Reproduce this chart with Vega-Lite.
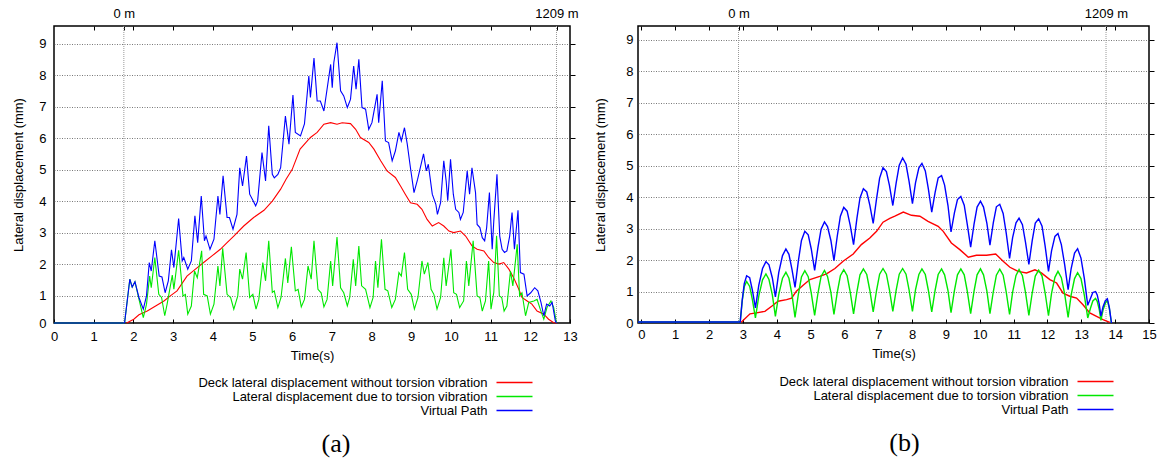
{
"$schema": "https://vega.github.io/schema/vega-lite/v6.json",
"padding": {"left": 12, "top": 6, "right": 0, "bottom": 0},
"spacing": 15,
"resolve": {"scale": {"color": "independent"}, "legend": {"color": "independent"}},
"config": {
  "font": "Liberation Sans",
  "view": {"stroke": "#000000", "strokeWidth": 1.5},
  "axis": {"labelFont": "Liberation Sans", "labelFontSize": 13, "labelColor": "#000000", "titleFont": "Liberation Sans", "titleFontSize": 13, "titleFontWeight": "normal", "titleColor": "#000000", "tickColor": "#000000", "domain": false, "gridColor": "#555555", "gridDash": [1, 1.5], "gridWidth": 0.8},
  "legend": {"labelFont": "Liberation Sans", "labelFontSize": 13, "labelColor": "#000000", "labelLimit": 600, "rowPadding": 0, "padding": 0}
},
"datasets": {
"a": [
{"s":"R","t":1.83,"v":0.13},{"s":"R","t":2.01,"v":0.25},{"s":"R","t":2.14,"v":0.39},{"s":"R","t":2.35,"v":0.51},{"s":"R","t":2.56,"v":0.67},{"s":"R","t":2.77,"v":0.83},{"s":"R","t":2.93,"v":0.99},{"s":"R","t":3.1,"v":1.15},{"s":"R","t":3.35,"v":1.62},{"s":"R","t":3.61,"v":1.89},{"s":"R","t":3.77,"v":2.05},{"s":"R","t":3.98,"v":2.26},{"s":"R","t":4.19,"v":2.47},{"s":"R","t":4.36,"v":2.68},{"s":"R","t":4.53,"v":2.89},{"s":"R","t":4.78,"v":3.21},{"s":"R","t":5.03,"v":3.48},{"s":"R","t":5.29,"v":3.71},{"s":"R","t":5.5,"v":4.0},{"s":"R","t":5.71,"v":4.38},{"s":"R","t":5.85,"v":4.7},{"s":"R","t":6.0,"v":5.0},{"s":"R","t":6.2,"v":5.65},{"s":"R","t":6.46,"v":6.02},{"s":"R","t":6.63,"v":6.18},{"s":"R","t":6.8,"v":6.44},{"s":"R","t":6.97,"v":6.49},{"s":"R","t":7.13,"v":6.44},{"s":"R","t":7.26,"v":6.49},{"s":"R","t":7.47,"v":6.46},{"s":"R","t":7.6,"v":6.28},{"s":"R","t":7.72,"v":6.02},{"s":"R","t":7.93,"v":5.86},{"s":"R","t":8.06,"v":5.65},{"s":"R","t":8.23,"v":5.28},{"s":"R","t":8.39,"v":4.96},{"s":"R","t":8.6,"v":4.75},{"s":"R","t":8.73,"v":4.48},{"s":"R","t":8.85,"v":4.22},{"s":"R","t":8.98,"v":3.95},{"s":"R","t":9.15,"v":3.9},{"s":"R","t":9.27,"v":3.74},{"s":"R","t":9.4,"v":3.42},{"s":"R","t":9.53,"v":3.21},{"s":"R","t":9.69,"v":3.32},{"s":"R","t":9.82,"v":3.21},{"s":"R","t":9.95,"v":3.05},{"s":"R","t":10.07,"v":3.0},{"s":"R","t":10.24,"v":3.05},{"s":"R","t":10.37,"v":2.89},{"s":"R","t":10.53,"v":2.58},{"s":"R","t":10.66,"v":2.47},{"s":"R","t":10.83,"v":2.42},{"s":"R","t":10.95,"v":2.21},{"s":"R","t":11.08,"v":2.05},{"s":"R","t":11.21,"v":2.0},{"s":"R","t":11.33,"v":2.05},{"s":"R","t":11.46,"v":1.84},{"s":"R","t":11.58,"v":1.57},{"s":"R","t":11.71,"v":1.2},{"s":"R","t":11.79,"v":0.94},{"s":"R","t":11.92,"v":0.83},{"s":"R","t":12.04,"v":0.73},{"s":"R","t":12.17,"v":0.51},{"s":"R","t":12.34,"v":0.41},{"s":"R","t":12.46,"v":0.25},{"s":"R","t":12.59,"v":0.14},{"s":"R","t":12.67,"v":0.13},
{"s":"G","t":0,"v":0.13},{"s":"G","t":1.76,"v":0.13},{"s":"G","t":1.78,"v":0.15},{"s":"G","t":1.91,"v":1.52},{"s":"G","t":1.97,"v":1.27},{"s":"G","t":2.04,"v":1.44},{"s":"G","t":2.14,"v":0.89},{"s":"G","t":2.25,"v":0.3},{"s":"G","t":2.33,"v":0.72},{"s":"G","t":2.41,"v":1.62},{"s":"G","t":2.45,"v":1.25},{"s":"G","t":2.54,"v":2.21},{"s":"G","t":2.64,"v":1.04},{"s":"G","t":2.71,"v":0.94},{"s":"G","t":2.79,"v":0.36},{"s":"G","t":2.85,"v":0.73},{"s":"G","t":2.98,"v":1.65},{"s":"G","t":3.02,"v":1.2},{"s":"G","t":3.14,"v":2.44},{"s":"G","t":3.25,"v":0.99},{"s":"G","t":3.31,"v":1.04},{"s":"G","t":3.37,"v":0.41},{"s":"G","t":3.46,"v":0.67},{"s":"G","t":3.54,"v":1.78},{"s":"G","t":3.61,"v":1.57},{"s":"G","t":3.72,"v":2.42},{"s":"G","t":3.77,"v":1.04},{"s":"G","t":3.86,"v":0.99},{"s":"G","t":3.94,"v":0.41},{"s":"G","t":4.03,"v":0.73},{"s":"G","t":4.13,"v":1.94},{"s":"G","t":4.18,"v":1.31},{"s":"G","t":4.25,"v":2.5},{"s":"G","t":4.36,"v":1.04},{"s":"G","t":4.45,"v":0.94},{"s":"G","t":4.53,"v":0.57},{"s":"G","t":4.63,"v":0.99},{"s":"G","t":4.68,"v":1.84},{"s":"G","t":4.75,"v":1.52},{"s":"G","t":4.84,"v":2.37},{"s":"G","t":4.93,"v":0.94},{"s":"G","t":5.01,"v":1.04},{"s":"G","t":5.09,"v":0.57},{"s":"G","t":5.16,"v":0.88},{"s":"G","t":5.26,"v":2.05},{"s":"G","t":5.33,"v":1.47},{"s":"G","t":5.41,"v":2.74},{"s":"G","t":5.5,"v":1.1},{"s":"G","t":5.55,"v":1.15},{"s":"G","t":5.64,"v":0.62},{"s":"G","t":5.72,"v":0.94},{"s":"G","t":5.83,"v":2.18},{"s":"G","t":5.89,"v":1.4},{"s":"G","t":5.98,"v":2.55},{"s":"G","t":6.08,"v":1.15},{"s":"G","t":6.15,"v":1.2},{"s":"G","t":6.23,"v":0.64},{"s":"G","t":6.31,"v":0.88},{"s":"G","t":6.4,"v":1.94},{"s":"G","t":6.48,"v":1.52},{"s":"G","t":6.55,"v":2.74},{"s":"G","t":6.65,"v":1.2},{"s":"G","t":6.73,"v":1.09},{"s":"G","t":6.8,"v":0.64},{"s":"G","t":6.88,"v":0.88},{"s":"G","t":6.97,"v":2.1},{"s":"G","t":7.02,"v":1.31},{"s":"G","t":7.13,"v":2.86},{"s":"G","t":7.22,"v":1.25},{"s":"G","t":7.3,"v":1.09},{"s":"G","t":7.39,"v":0.67},{"s":"G","t":7.45,"v":0.94},{"s":"G","t":7.54,"v":2.15},{"s":"G","t":7.6,"v":1.31},{"s":"G","t":7.68,"v":2.57},{"s":"G","t":7.75,"v":1.31},{"s":"G","t":7.85,"v":1.2},{"s":"G","t":7.96,"v":0.62},{"s":"G","t":8.04,"v":0.94},{"s":"G","t":8.1,"v":2.1},{"s":"G","t":8.16,"v":1.25},{"s":"G","t":8.25,"v":2.79},{"s":"G","t":8.34,"v":1.2},{"s":"G","t":8.41,"v":1.15},{"s":"G","t":8.51,"v":0.62},{"s":"G","t":8.6,"v":0.88},{"s":"G","t":8.69,"v":1.73},{"s":"G","t":8.75,"v":1.62},{"s":"G","t":8.83,"v":2.37},{"s":"G","t":8.91,"v":1.2},{"s":"G","t":9.0,"v":1.04},{"s":"G","t":9.08,"v":0.57},{"s":"G","t":9.17,"v":0.94},{"s":"G","t":9.27,"v":2.1},{"s":"G","t":9.33,"v":1.68},{"s":"G","t":9.42,"v":2.05},{"s":"G","t":9.5,"v":1.2},{"s":"G","t":9.57,"v":1.04},{"s":"G","t":9.65,"v":0.57},{"s":"G","t":9.74,"v":0.94},{"s":"G","t":9.82,"v":2.2},{"s":"G","t":9.88,"v":1.31},{"s":"G","t":10.0,"v":2.47},{"s":"G","t":10.07,"v":1.09},{"s":"G","t":10.14,"v":1.04},{"s":"G","t":10.22,"v":0.62},{"s":"G","t":10.32,"v":0.83},{"s":"G","t":10.39,"v":2.1},{"s":"G","t":10.45,"v":1.31},{"s":"G","t":10.56,"v":2.74},{"s":"G","t":10.66,"v":0.99},{"s":"G","t":10.73,"v":0.94},{"s":"G","t":10.79,"v":0.51},{"s":"G","t":10.87,"v":0.83},{"s":"G","t":10.95,"v":2.1},{"s":"G","t":11.01,"v":0.57},{"s":"G","t":11.08,"v":1.1},{"s":"G","t":11.15,"v":2.9},{"s":"G","t":11.22,"v":0.99},{"s":"G","t":11.28,"v":0.94},{"s":"G","t":11.34,"v":0.51},{"s":"G","t":11.41,"v":0.67},{"s":"G","t":11.5,"v":1.78},{"s":"G","t":11.56,"v":1.31},{"s":"G","t":11.67,"v":2.63},{"s":"G","t":11.73,"v":0.99},{"s":"G","t":11.79,"v":1.09},{"s":"G","t":11.88,"v":0.36},{"s":"G","t":11.96,"v":0.78},{"s":"G","t":12.09,"v":0.83},{"s":"G","t":12.17,"v":0.88},{"s":"G","t":12.25,"v":0.57},{"s":"G","t":12.34,"v":0.25},{"s":"G","t":12.42,"v":0.62},{"s":"G","t":12.52,"v":0.83},{"s":"G","t":12.59,"v":0.62},{"s":"G","t":12.66,"v":0.13},
{"s":"B","t":0,"v":0.13},{"s":"B","t":1.76,"v":0.13},{"s":"B","t":1.78,"v":0.15},{"s":"B","t":1.91,"v":1.52},{"s":"B","t":1.97,"v":1.27},{"s":"B","t":2.04,"v":1.44},{"s":"B","t":2.14,"v":0.94},{"s":"B","t":2.25,"v":0.57},{"s":"B","t":2.33,"v":0.99},{"s":"B","t":2.4,"v":2.05},{"s":"B","t":2.45,"v":1.78},{"s":"B","t":2.54,"v":2.74},{"s":"B","t":2.65,"v":1.62},{"s":"B","t":2.72,"v":1.59},{"s":"B","t":2.8,"v":1.09},{"s":"B","t":2.88,"v":1.47},{"s":"B","t":2.96,"v":2.45},{"s":"B","t":3.02,"v":1.89},{"s":"B","t":3.14,"v":3.45},{"s":"B","t":3.23,"v":2.1},{"s":"B","t":3.27,"v":2.21},{"s":"B","t":3.37,"v":1.84},{"s":"B","t":3.46,"v":2.1},{"s":"B","t":3.55,"v":3.53},{"s":"B","t":3.62,"v":2.68},{"s":"B","t":3.71,"v":4.16},{"s":"B","t":3.79,"v":2.74},{"s":"B","t":3.83,"v":2.89},{"s":"B","t":3.93,"v":2.47},{"s":"B","t":4.03,"v":2.79},{"s":"B","t":4.13,"v":4.16},{"s":"B","t":4.18,"v":3.58},{"s":"B","t":4.26,"v":4.8},{"s":"B","t":4.36,"v":3.48},{"s":"B","t":4.42,"v":3.48},{"s":"B","t":4.51,"v":3.11},{"s":"B","t":4.61,"v":3.58},{"s":"B","t":4.68,"v":5.06},{"s":"B","t":4.75,"v":4.48},{"s":"B","t":4.85,"v":5.43},{"s":"B","t":4.93,"v":4.22},{"s":"B","t":5.02,"v":4.0},{"s":"B","t":5.08,"v":3.85},{"s":"B","t":5.13,"v":4.0},{"s":"B","t":5.24,"v":5.54},{"s":"B","t":5.33,"v":4.64},{"s":"B","t":5.41,"v":6.39},{"s":"B","t":5.5,"v":4.85},{"s":"B","t":5.55,"v":4.74},{"s":"B","t":5.64,"v":4.85},{"s":"B","t":5.71,"v":5.06},{"s":"B","t":5.83,"v":6.7},{"s":"B","t":5.92,"v":5.81},{"s":"B","t":6.02,"v":7.37},{"s":"B","t":6.08,"v":6.18},{"s":"B","t":6.21,"v":6.07},{"s":"B","t":6.31,"v":6.45},{"s":"B","t":6.42,"v":7.97},{"s":"B","t":6.46,"v":7.29},{"s":"B","t":6.55,"v":8.54},{"s":"B","t":6.63,"v":7.18},{"s":"B","t":6.71,"v":7.18},{"s":"B","t":6.8,"v":6.86},{"s":"B","t":6.97,"v":8.34},{"s":"B","t":7.01,"v":7.6},{"s":"B","t":7.05,"v":8.4},{"s":"B","t":7.13,"v":9.03},{"s":"B","t":7.22,"v":7.5},{"s":"B","t":7.3,"v":7.34},{"s":"B","t":7.39,"v":6.97},{"s":"B","t":7.47,"v":7.23},{"s":"B","t":7.55,"v":8.29},{"s":"B","t":7.61,"v":7.55},{"s":"B","t":7.68,"v":8.5},{"s":"B","t":7.76,"v":6.97},{"s":"B","t":7.85,"v":6.92},{"s":"B","t":7.93,"v":6.28},{"s":"B","t":8.01,"v":6.49},{"s":"B","t":8.14,"v":7.39},{"s":"B","t":8.18,"v":6.49},{"s":"B","t":8.27,"v":7.82},{"s":"B","t":8.35,"v":5.91},{"s":"B","t":8.43,"v":5.86},{"s":"B","t":8.52,"v":5.28},{"s":"B","t":8.6,"v":5.59},{"s":"B","t":8.69,"v":6.18},{"s":"B","t":8.75,"v":5.91},{"s":"B","t":8.83,"v":6.33},{"s":"B","t":8.9,"v":5.81},{"s":"B","t":8.98,"v":5.06},{"s":"B","t":9.07,"v":4.27},{"s":"B","t":9.16,"v":4.69},{"s":"B","t":9.31,"v":5.5},{"s":"B","t":9.38,"v":4.96},{"s":"B","t":9.43,"v":5.17},{"s":"B","t":9.53,"v":4.22},{"s":"B","t":9.62,"v":3.9},{"s":"B","t":9.66,"v":3.58},{"s":"B","t":9.74,"v":3.95},{"s":"B","t":9.82,"v":5.28},{"s":"B","t":9.88,"v":4.64},{"s":"B","t":9.92,"v":4.01},{"s":"B","t":9.99,"v":5.33},{"s":"B","t":10.06,"v":4.22},{"s":"B","t":10.12,"v":3.74},{"s":"B","t":10.2,"v":3.64},{"s":"B","t":10.24,"v":3.42},{"s":"B","t":10.31,"v":3.64},{"s":"B","t":10.41,"v":4.96},{"s":"B","t":10.47,"v":4.22},{"s":"B","t":10.53,"v":5.06},{"s":"B","t":10.62,"v":4.27},{"s":"B","t":10.66,"v":3.26},{"s":"B","t":10.73,"v":3.16},{"s":"B","t":10.79,"v":2.84},{"s":"B","t":10.85,"v":2.74},{"s":"B","t":10.9,"v":3.16},{"s":"B","t":10.97,"v":4.27},{"s":"B","t":11.04,"v":2.47},{"s":"B","t":11.08,"v":3.37},{"s":"B","t":11.16,"v":4.85},{"s":"B","t":11.23,"v":2.89},{"s":"B","t":11.29,"v":2.47},{"s":"B","t":11.35,"v":2.37},{"s":"B","t":11.41,"v":2.42},{"s":"B","t":11.48,"v":2.89},{"s":"B","t":11.54,"v":3.64},{"s":"B","t":11.6,"v":2.47},{"s":"B","t":11.69,"v":3.71},{"s":"B","t":11.75,"v":1.73},{"s":"B","t":11.84,"v":1.68},{"s":"B","t":11.92,"v":0.99},{"s":"B","t":12.01,"v":1.09},{"s":"B","t":12.11,"v":1.25},{"s":"B","t":12.19,"v":1.15},{"s":"B","t":12.27,"v":0.78},{"s":"B","t":12.34,"v":0.36},{"s":"B","t":12.41,"v":0.73},{"s":"B","t":12.49,"v":0.67},{"s":"B","t":12.55,"v":0.78},{"s":"B","t":12.63,"v":0.2},{"s":"B","t":12.66,"v":0.13}
],
"b": [
{"s":"R","t":2.95,"v":0.02},{"s":"R","t":3.21,"v":0.29},{"s":"R","t":3.4,"v":0.32},{"s":"R","t":3.65,"v":0.37},{"s":"R","t":3.85,"v":0.53},{"s":"R","t":4.04,"v":0.69},{"s":"R","t":4.29,"v":0.74},{"s":"R","t":4.44,"v":0.79},{"s":"R","t":4.58,"v":1.01},{"s":"R","t":4.78,"v":1.2},{"s":"R","t":4.98,"v":1.38},{"s":"R","t":5.27,"v":1.48},{"s":"R","t":5.47,"v":1.56},{"s":"R","t":5.72,"v":1.73},{"s":"R","t":5.96,"v":1.96},{"s":"R","t":6.26,"v":2.19},{"s":"R","t":6.5,"v":2.49},{"s":"R","t":6.75,"v":2.7},{"s":"R","t":6.95,"v":2.91},{"s":"R","t":7.14,"v":3.2},{"s":"R","t":7.34,"v":3.32},{"s":"R","t":7.49,"v":3.39},{"s":"R","t":7.74,"v":3.52},{"s":"R","t":7.98,"v":3.42},{"s":"R","t":8.23,"v":3.39},{"s":"R","t":8.47,"v":3.23},{"s":"R","t":8.77,"v":3.07},{"s":"R","t":8.92,"v":2.91},{"s":"R","t":9.16,"v":2.54},{"s":"R","t":9.41,"v":2.33},{"s":"R","t":9.66,"v":2.09},{"s":"R","t":9.9,"v":2.15},{"s":"R","t":10.2,"v":2.15},{"s":"R","t":10.47,"v":2.19},{"s":"R","t":10.69,"v":1.96},{"s":"R","t":10.89,"v":1.77},{"s":"R","t":11.13,"v":1.64},{"s":"R","t":11.38,"v":1.59},{"s":"R","t":11.63,"v":1.69},{"s":"R","t":11.82,"v":1.59},{"s":"R","t":12.07,"v":1.38},{"s":"R","t":12.27,"v":1.27},{"s":"R","t":12.46,"v":0.95},{"s":"R","t":12.66,"v":0.85},{"s":"R","t":12.86,"v":0.79},{"s":"R","t":13.05,"v":0.58},{"s":"R","t":13.25,"v":0.32},{"s":"R","t":13.45,"v":0.21},{"s":"R","t":13.64,"v":0.11},{"s":"R","t":13.84,"v":0.02},
{"s":"G","t":-0.1,"v":0.03},{"s":"G","t":2.92,"v":0.03},{"s":"G","t":2.98,"v":0.7},{"s":"G","t":3.04,"v":1.15},{"s":"G","t":3.11,"v":1.32},{"s":"G","t":3.2,"v":1.16},{"s":"G","t":3.28,"v":0.74},{"s":"G","t":3.37,"v":0.16},{"s":"G","t":3.47,"v":0.86},{"s":"G","t":3.58,"v":1.37},{"s":"G","t":3.68,"v":1.56},{"s":"G","t":3.77,"v":1.38},{"s":"G","t":3.87,"v":0.89},{"s":"G","t":3.96,"v":0.21},{"s":"G","t":4.06,"v":0.91},{"s":"G","t":4.17,"v":1.42},{"s":"G","t":4.27,"v":1.61},{"s":"G","t":4.36,"v":1.42},{"s":"G","t":4.45,"v":0.9},{"s":"G","t":4.54,"v":0.18},{"s":"G","t":4.64,"v":0.92},{"s":"G","t":4.73,"v":1.46},{"s":"G","t":4.83,"v":1.66},{"s":"G","t":4.93,"v":1.47},{"s":"G","t":5.02,"v":0.95},{"s":"G","t":5.12,"v":0.24},{"s":"G","t":5.22,"v":0.96},{"s":"G","t":5.31,"v":1.48},{"s":"G","t":5.41,"v":1.67},{"s":"G","t":5.5,"v":1.48},{"s":"G","t":5.6,"v":0.97},{"s":"G","t":5.69,"v":0.27},{"s":"G","t":5.79,"v":0.98},{"s":"G","t":5.88,"v":1.5},{"s":"G","t":5.98,"v":1.69},{"s":"G","t":6.08,"v":1.5},{"s":"G","t":6.17,"v":0.99},{"s":"G","t":6.27,"v":0.29},{"s":"G","t":6.37,"v":1.0},{"s":"G","t":6.46,"v":1.53},{"s":"G","t":6.56,"v":1.72},{"s":"G","t":6.66,"v":1.54},{"s":"G","t":6.75,"v":1.04},{"s":"G","t":6.85,"v":0.35},{"s":"G","t":6.95,"v":1.04},{"s":"G","t":7.04,"v":1.55},{"s":"G","t":7.14,"v":1.73},{"s":"G","t":7.24,"v":1.55},{"s":"G","t":7.33,"v":1.05},{"s":"G","t":7.43,"v":0.37},{"s":"G","t":7.53,"v":1.05},{"s":"G","t":7.62,"v":1.55},{"s":"G","t":7.72,"v":1.73},{"s":"G","t":7.82,"v":1.55},{"s":"G","t":7.91,"v":1.05},{"s":"G","t":8.01,"v":0.37},{"s":"G","t":8.1,"v":1.05},{"s":"G","t":8.2,"v":1.54},{"s":"G","t":8.29,"v":1.72},{"s":"G","t":8.39,"v":1.54},{"s":"G","t":8.48,"v":1.04},{"s":"G","t":8.58,"v":0.35},{"s":"G","t":8.68,"v":1.04},{"s":"G","t":8.77,"v":1.54},{"s":"G","t":8.87,"v":1.72},{"s":"G","t":8.96,"v":1.53},{"s":"G","t":9.06,"v":1.03},{"s":"G","t":9.15,"v":0.33},{"s":"G","t":9.25,"v":1.03},{"s":"G","t":9.34,"v":1.53},{"s":"G","t":9.44,"v":1.72},{"s":"G","t":9.54,"v":1.53},{"s":"G","t":9.63,"v":1.01},{"s":"G","t":9.73,"v":0.3},{"s":"G","t":9.83,"v":1.01},{"s":"G","t":9.92,"v":1.53},{"s":"G","t":10.02,"v":1.72},{"s":"G","t":10.11,"v":1.53},{"s":"G","t":10.21,"v":1.01},{"s":"G","t":10.3,"v":0.3},{"s":"G","t":10.4,"v":1.0},{"s":"G","t":10.49,"v":1.52},{"s":"G","t":10.59,"v":1.71},{"s":"G","t":10.69,"v":1.52},{"s":"G","t":10.78,"v":0.99},{"s":"G","t":10.88,"v":0.27},{"s":"G","t":10.97,"v":0.98},{"s":"G","t":11.07,"v":1.51},{"s":"G","t":11.16,"v":1.7},{"s":"G","t":11.26,"v":1.5},{"s":"G","t":11.35,"v":0.97},{"s":"G","t":11.45,"v":0.24},{"s":"G","t":11.55,"v":0.96},{"s":"G","t":11.64,"v":1.49},{"s":"G","t":11.74,"v":1.68},{"s":"G","t":11.84,"v":1.49},{"s":"G","t":11.93,"v":0.96},{"s":"G","t":12.03,"v":0.23},{"s":"G","t":12.12,"v":0.94},{"s":"G","t":12.22,"v":1.45},{"s":"G","t":12.31,"v":1.64},{"s":"G","t":12.41,"v":1.44},{"s":"G","t":12.51,"v":0.91},{"s":"G","t":12.61,"v":0.18},{"s":"G","t":12.7,"v":0.89},{"s":"G","t":12.8,"v":1.41},{"s":"G","t":12.89,"v":1.6},{"s":"G","t":12.99,"v":1.41},{"s":"G","t":13.09,"v":0.88},{"s":"G","t":13.19,"v":0.16},{"s":"G","t":13.27,"v":0.47},{"s":"G","t":13.34,"v":0.7},{"s":"G","t":13.42,"v":0.78},{"s":"G","t":13.47,"v":0.69},{"s":"G","t":13.53,"v":0.43},{"s":"G","t":13.58,"v":0.08},{"s":"G","t":13.64,"v":0.4},{"s":"G","t":13.71,"v":0.63},{"s":"G","t":13.77,"v":0.72},{"s":"G","t":13.83,"v":0.45},{"s":"G","t":13.89,"v":0.0},
{"s":"B","t":-0.1,"v":0.03},{"s":"B","t":2.92,"v":0.03},{"s":"B","t":2.98,"v":0.73},{"s":"B","t":3.04,"v":1.25},{"s":"B","t":3.11,"v":1.5},{"s":"B","t":3.2,"v":1.44},{"s":"B","t":3.28,"v":1.04},{"s":"B","t":3.37,"v":0.48},{"s":"B","t":3.47,"v":1.2},{"s":"B","t":3.58,"v":1.73},{"s":"B","t":3.68,"v":1.95},{"s":"B","t":3.77,"v":1.85},{"s":"B","t":3.87,"v":1.43},{"s":"B","t":3.96,"v":0.83},{"s":"B","t":4.06,"v":1.61},{"s":"B","t":4.17,"v":2.14},{"s":"B","t":4.27,"v":2.35},{"s":"B","t":4.36,"v":2.18},{"s":"B","t":4.45,"v":1.7},{"s":"B","t":4.54,"v":1.13},{"s":"B","t":4.64,"v":1.98},{"s":"B","t":4.73,"v":2.62},{"s":"B","t":4.83,"v":2.91},{"s":"B","t":4.93,"v":2.8},{"s":"B","t":5.02,"v":2.35},{"s":"B","t":5.12,"v":1.67},{"s":"B","t":5.22,"v":2.42},{"s":"B","t":5.31,"v":2.98},{"s":"B","t":5.41,"v":3.21},{"s":"B","t":5.5,"v":3.06},{"s":"B","t":5.6,"v":2.62},{"s":"B","t":5.69,"v":1.98},{"s":"B","t":5.79,"v":2.77},{"s":"B","t":5.88,"v":3.39},{"s":"B","t":5.98,"v":3.67},{"s":"B","t":6.08,"v":3.55},{"s":"B","t":6.17,"v":3.11},{"s":"B","t":6.27,"v":2.49},{"s":"B","t":6.37,"v":3.33},{"s":"B","t":6.46,"v":3.97},{"s":"B","t":6.56,"v":4.26},{"s":"B","t":6.66,"v":4.16},{"s":"B","t":6.75,"v":3.74},{"s":"B","t":6.85,"v":3.16},{"s":"B","t":6.95,"v":3.95},{"s":"B","t":7.04,"v":4.6},{"s":"B","t":7.14,"v":4.93},{"s":"B","t":7.24,"v":4.81},{"s":"B","t":7.33,"v":4.37},{"s":"B","t":7.43,"v":3.73},{"s":"B","t":7.53,"v":4.46},{"s":"B","t":7.62,"v":5.01},{"s":"B","t":7.72,"v":5.24},{"s":"B","t":7.82,"v":5.04},{"s":"B","t":7.91,"v":4.5},{"s":"B","t":8.01,"v":3.79},{"s":"B","t":8.1,"v":4.45},{"s":"B","t":8.2,"v":4.93},{"s":"B","t":8.29,"v":5.07},{"s":"B","t":8.39,"v":4.83},{"s":"B","t":8.48,"v":4.26},{"s":"B","t":8.58,"v":3.52},{"s":"B","t":8.68,"v":4.15},{"s":"B","t":8.77,"v":4.61},{"s":"B","t":8.87,"v":4.68},{"s":"B","t":8.96,"v":4.38},{"s":"B","t":9.06,"v":3.73},{"s":"B","t":9.15,"v":2.89},{"s":"B","t":9.25,"v":3.5},{"s":"B","t":9.34,"v":3.92},{"s":"B","t":9.44,"v":4.02},{"s":"B","t":9.54,"v":3.74},{"s":"B","t":9.63,"v":3.13},{"s":"B","t":9.73,"v":2.41},{"s":"B","t":9.83,"v":3.14},{"s":"B","t":9.92,"v":3.68},{"s":"B","t":10.02,"v":3.87},{"s":"B","t":10.11,"v":3.68},{"s":"B","t":10.21,"v":3.16},{"s":"B","t":10.3,"v":2.47},{"s":"B","t":10.4,"v":3.19},{"s":"B","t":10.49,"v":3.69},{"s":"B","t":10.59,"v":3.77},{"s":"B","t":10.69,"v":3.48},{"s":"B","t":10.78,"v":2.86},{"s":"B","t":10.88,"v":2.05},{"s":"B","t":10.97,"v":2.71},{"s":"B","t":11.07,"v":3.18},{"s":"B","t":11.16,"v":3.33},{"s":"B","t":11.26,"v":3.12},{"s":"B","t":11.35,"v":2.57},{"s":"B","t":11.45,"v":1.86},{"s":"B","t":11.55,"v":2.62},{"s":"B","t":11.64,"v":3.17},{"s":"B","t":11.74,"v":3.31},{"s":"B","t":11.84,"v":3.07},{"s":"B","t":11.93,"v":2.45},{"s":"B","t":12.03,"v":1.64},{"s":"B","t":12.12,"v":2.29},{"s":"B","t":12.22,"v":2.75},{"s":"B","t":12.31,"v":2.84},{"s":"B","t":12.41,"v":2.49},{"s":"B","t":12.51,"v":1.84},{"s":"B","t":12.61,"v":1.06},{"s":"B","t":12.7,"v":1.73},{"s":"B","t":12.8,"v":2.22},{"s":"B","t":12.89,"v":2.36},{"s":"B","t":12.99,"v":2.06},{"s":"B","t":13.09,"v":1.41},{"s":"B","t":13.19,"v":0.56},{"s":"B","t":13.27,"v":0.78},{"s":"B","t":13.34,"v":0.97},{"s":"B","t":13.42,"v":1.0},{"s":"B","t":13.47,"v":0.89},{"s":"B","t":13.53,"v":0.6},{"s":"B","t":13.58,"v":0.22},{"s":"B","t":13.64,"v":0.51},{"s":"B","t":13.71,"v":0.71},{"s":"B","t":13.77,"v":0.77},{"s":"B","t":13.83,"v":0.48},{"s":"B","t":13.89,"v":0.0}
]
},
"hconcat": [
{
  "width": 516, "height": 297,
  "data": {"name": "a"},
  "title": {"text": "(a)", "orient": "bottom", "anchor": "middle", "frame": "group", "dx": 24, "offset": 13, "font": "Liberation Serif", "fontSize": 26, "fontWeight": "normal", "color": "#000000"},
  "layer": [
    {
      "data": {"values": [{"t": 1.76}, {"t": 12.66}]},
      "mark": {"type": "rule", "color": "#999999", "strokeDash": [1, 1], "strokeWidth": 1},
      "encoding": {"x": {"field": "t", "type": "quantitative", "scale": {"domain": [0, 13], "nice": false, "zero": false},
        "axis": {"orient": "top", "values": [1,2,3,4,5,6,7,8,9,10,11,12,1.76,12.66], "labelExpr": "datum.value == 1.76 ? '0 m' : (datum.value == 12.66 ? '1209 m' : '')", "tickSize": -4, "labelPadding": 10, "labelOverlap": false, "labelFlush": false, "grid": false, "title": null}}}
    },
    {
      "mark": {"type": "point", "opacity": 0},
      "encoding": {"y": {"field": "v", "type": "quantitative", "scale": {"domain": [0.13, 9.56], "nice": false, "zero": false},
        "axis": {"orient": "right", "values": [1,2,3,4,5,6,7,8,9], "labels": false, "ticks": true, "tickSize": 5, "grid": false, "title": null}}}
    },
    {
      "mark": {"type": "line", "strokeWidth": 1.1},
      "encoding": {
        "x": {"field": "t", "type": "quantitative", "scale": {"domain": [0, 13], "nice": false, "zero": false},
          "axis": {"orient": "bottom", "values": [0,1,2,3,4,5,6,7,8,9,10,11,12,13], "tickSize": -4, "labelPadding": 11, "labelFlush": false, "labelOverlap": false, "grid": false, "title": "Time(s)", "titlePadding": 6}},
        "y": {"field": "v", "type": "quantitative", "scale": {"domain": [0.13, 9.56], "nice": false, "zero": false},
          "axis": {"orient": "left", "values": [0.13,1,2,3,4,5,6,7,8,9], "labelExpr": "datum.value < 0.5 ? '0' : format(datum.value, 'd')", "ticks": false, "labelPadding": 8, "labelOverlap": false, "grid": true, "gridOpacity": {"condition": {"test": "datum.value < 0.5", "value": 0}, "value": 1}, "title": "Lateral displacement (mm)", "titlePadding": 13}},
        "color": {"field": "s", "type": "nominal", "scale": {"domain": ["R", "G", "B"], "range": ["#ff0000", "#00e800", "#0000ff"]},
          "legend": {"orient": "none", "legendX": 454, "legendY": 350, "direction": "vertical", "title": null, "labelExpr": "datum.label == 'R' ? 'Deck lateral displacement without torsion vibration' : (datum.label == 'G' ? 'Lateral displacement due to torsion vibration' : 'Virtual Path')", "symbolType": "M-9,0H9", "symbolSize": 16, "symbolStrokeWidth": 1.5, "labelAlign": "right", "labelOffset": -33.5, "symbolOffset": 0}}
      }
    }
  ]
},
{
  "width": 511, "height": 297,
  "data": {"name": "b"},
  "title": {"text": "(b)", "orient": "bottom", "anchor": "middle", "frame": "group", "dx": 11, "offset": 13, "font": "Liberation Serif", "fontSize": 26, "fontWeight": "normal", "color": "#000000"},
  "layer": [
    {
      "data": {"values": [{"t": 2.87}, {"t": 13.73}]},
      "mark": {"type": "rule", "color": "#999999", "strokeDash": [1, 1], "strokeWidth": 1},
      "encoding": {"x": {"field": "t", "type": "quantitative", "scale": {"domain": [-0.1, 15], "nice": false, "zero": false},
        "axis": {"orient": "top", "values": [0,1,2,3,4,5,6,7,8,9,10,11,12,13,14,2.87,13.73], "labelExpr": "datum.value == 2.87 ? '0 m' : (datum.value == 13.73 ? '1209 m' : '')", "tickSize": -4, "labelPadding": 10, "labelOverlap": false, "labelFlush": false, "grid": false, "title": null}}}
    },
    {
      "mark": {"type": "point", "opacity": 0},
      "encoding": {"y": {"field": "v", "type": "quantitative", "scale": {"domain": [0, 9.43], "nice": false, "zero": false},
        "axis": {"orient": "right", "values": [0,1,2,3,4,5,6,7,8,9], "labels": false, "ticks": true, "tickSize": 5, "grid": false, "title": null}}}
    },
    {
      "mark": {"type": "line", "strokeWidth": 1.4},
      "encoding": {
        "x": {"field": "t", "type": "quantitative", "scale": {"domain": [-0.1, 15], "nice": false, "zero": false},
          "axis": {"orient": "bottom", "values": [0,1,2,3,4,5,6,7,8,9,10,11,12,13,14,15], "tickSize": -4, "labelPadding": 9, "labelFlush": false, "labelOverlap": false, "grid": false, "title": "Time(s)", "titlePadding": 6}},
        "y": {"field": "v", "type": "quantitative", "scale": {"domain": [0, 9.43], "nice": false, "zero": false},
          "axis": {"orient": "left", "values": [0,1,2,3,4,5,6,7,8,9], "ticks": false, "labelPadding": 5, "grid": true, "gridOpacity": {"condition": {"test": "datum.value === 0", "value": 0}, "value": 1}, "title": "Lateral displacement (mm)", "titlePadding": 18}},
        "color": {"field": "s", "type": "nominal", "scale": {"domain": ["R", "G", "B"], "range": ["#ff0000", "#00e800", "#0000ff"]},
          "legend": {"orient": "none", "legendX": 451, "legendY": 349, "direction": "vertical", "title": null, "labelExpr": "datum.label == 'R' ? 'Deck lateral displacement without torsion vibration' : (datum.label == 'G' ? 'Lateral displacement due to torsion vibration' : 'Virtual Path')", "symbolType": "M-9,0H9", "symbolSize": 16, "symbolStrokeWidth": 1.5, "labelAlign": "right", "labelOffset": -33.5, "symbolOffset": 0}}
      }
    }
  ]
}
]
}
